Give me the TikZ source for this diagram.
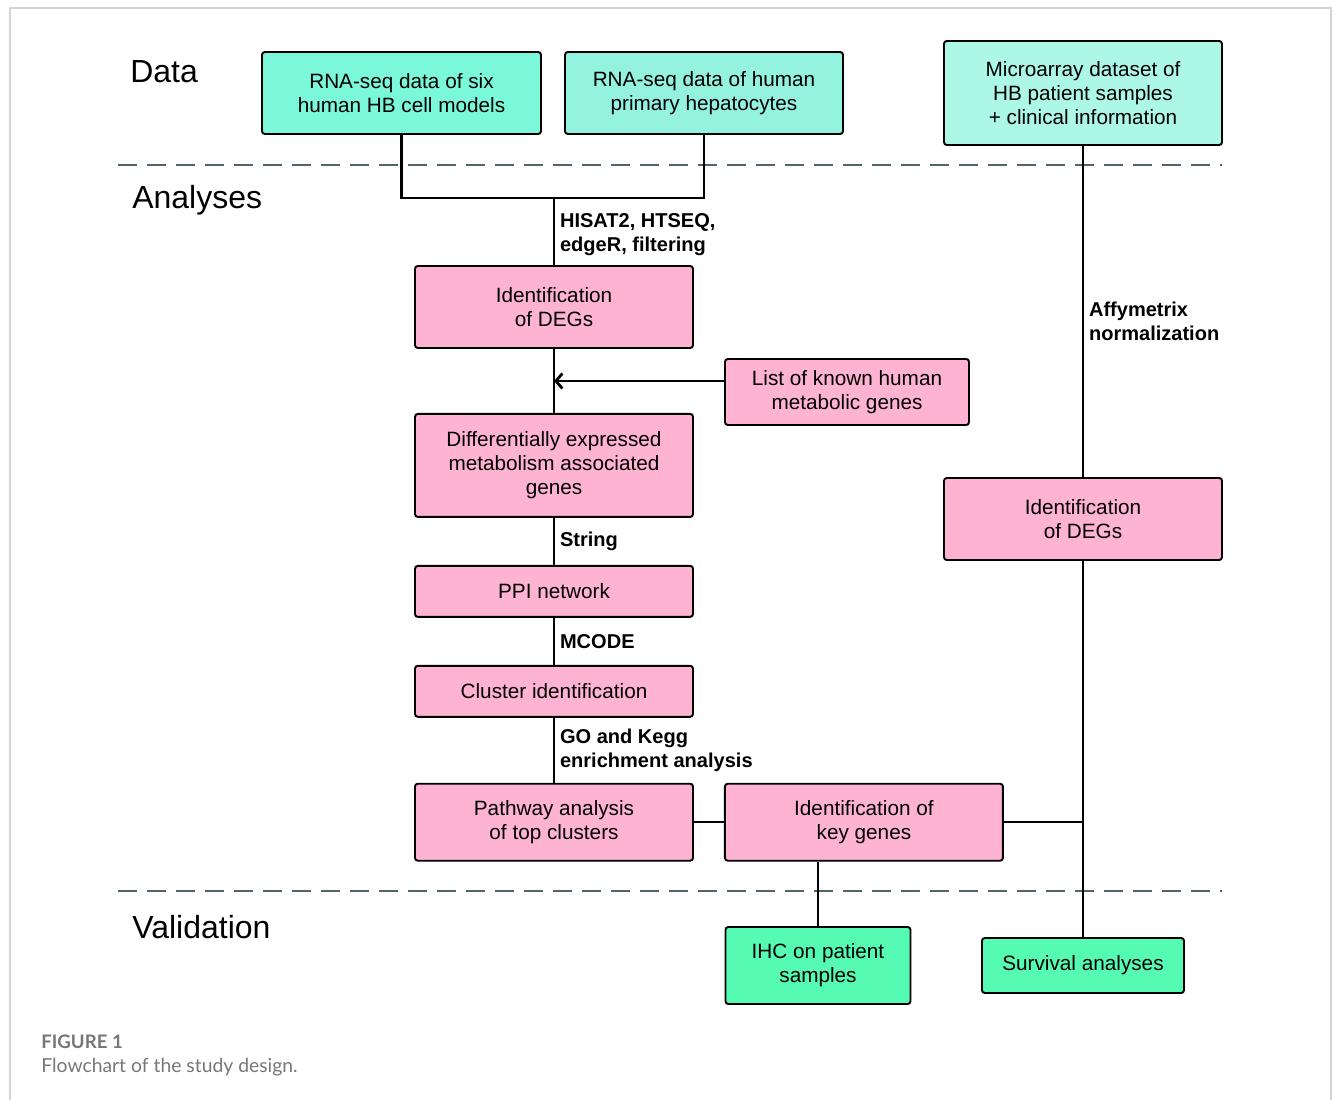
\documentclass[tikz,border=0pt]{standalone}
\usepackage{fontspec}
\setmainfont{Liberation Sans}
\newfontfamily\capfont{Lato}
\usepackage{tikz}
\usetikzlibrary{arrows.meta,positioning,calc}
\definecolor{DataTealA}{HTML}{7BF8D9}
\definecolor{DataTealB}{HTML}{93F3DE}
\definecolor{DataTealC}{HTML}{ACF7E6}
\definecolor{StepPink}{HTML}{FFB3D3}
\definecolor{ValidGreen}{HTML}{55FBB2}
\definecolor{DivGray}{HTML}{50646A}
\definecolor{FrameGray}{HTML}{D4D4D4}
\definecolor{CapGray}{HTML}{777777}
\tikzset{
  BX/.style={rectangle,rounded corners=1.6pt,draw=black,line width=1.1pt,
             inner sep=2pt,text centered,align=center,
             font=\fontsize{11.8}{13.7}\selectfont},
  bA/.style={BX,fill=DataTealA},
  bB/.style={BX,fill=DataTealB},
  bC/.style={BX,fill=DataTealC},
  bP/.style={BX,fill=StepPink},
  bV/.style={BX,fill=ValidGreen},
  ln/.style={line width=1.2pt,black},
  arr/.style={ln,-{Straight Barb[length=0.13cm,width=0.3cm,line width=1.6pt]}},
  lbl/.style={font=\fontsize{11.4}{13.7}\selectfont\bfseries,align=left,
              inner sep=0.1cm,midway,right},
  sec/.style={anchor=west,inner sep=0pt,font=\fontsize{18.2}{22}\selectfont},
  divline/.style={DivGray,line width=1.5pt,dash pattern=on 0.38cm off 0.2cm},
  frm/.style={FrameGray,line width=1pt},
  capt/.style={anchor=west,inner sep=0pt,text=CapGray,
               font=\capfont\fontsize{11}{13}\selectfont}
}
\begin{document}
\begin{tikzpicture}[node distance=1cm and 0.6cm]
  \useasboundingbox (0,0) rectangle (26.66,-22);
  \draw[frm] (0.2,-22) -- (0.2,-0.16) -- (26.62,-0.16) -- (26.62,-22);

  % dividers and section names
  \draw[divline] (2.36,-3.30) -- (24.44,-3.30);
  \draw[divline] (2.36,-17.82) -- (24.44,-17.82);
  \node[sec] (sdata) at (2.6,-1.44) {Data};
  \node[sec] (sana) at (2.64,-4.0) {Analyses};
  \node[sec] (sval) at (2.64,-18.54) {Validation};

  % data
  \node[bA,minimum width=5.58cm,minimum height=1.64cm] (rna1) at (8.03,-1.86) {RNA-seq data of six\\human HB cell models};
  \node[bB,minimum width=5.56cm,minimum height=1.64cm] (rna2) at (14.08,-1.86) {RNA-seq data of human\\primary hepatocytes};
  \node[bC,minimum width=5.56cm,minimum height=2.08cm] (micro) at (21.66,-1.86) {Microarray dataset of\\HB patient samples\\+ clinical information};

  % analyses, left column
  \node[bP,minimum width=5.56cm,minimum height=1.64cm] (deg1) at (11.08,-6.14) {Identification\\of DEGs};
  \node[bP,minimum width=5.56cm,minimum height=2.06cm,below=1.28cm of deg1] (dem) {Differentially expressed\\metabolism associated\\genes};
  \node[bP,minimum width=5.56cm,minimum height=1.02cm,below=0.94cm of dem] (ppi) {PPI network};
  \node[bP,minimum width=5.56cm,minimum height=1.02cm,below=0.94cm of ppi] (clus) {Cluster identification};
  \node[bP,minimum width=5.56cm,minimum height=1.54cm,below=1.30cm of clus] (path) {Pathway analysis\\of top clusters};
  \node[bP,minimum width=5.56cm,minimum height=1.54cm,right=0.6cm of path] (key) {Identification of\\key genes};
  \node[bP,minimum width=4.88cm,minimum height=1.32cm] (list) at (16.94,-7.84) {List of known human\\metabolic genes};
  \node[bP,minimum width=5.56cm,minimum height=1.64cm] (deg2) at (21.66,-10.38) {Identification\\of DEGs};

  % validation
  \node[bV,minimum width=3.7cm,minimum height=1.54cm] (ihc) at (16.36,-19.31) {IHC on patient\\samples};
  \node[bV,minimum width=4.04cm,minimum height=1.1cm] (surv) at (21.66,-19.31) {Survival analyses};

  \coordinate (mrg) at (11.08,-3.96);
  \draw[ln](rna1.south) |- (mrg) -| (rna2.south);
  \draw[ln](mrg) -- node[lbl,pos=0.55]{HISAT2, HTSEQ,\\edgeR, filtering} (deg1.north);
  \draw[ln](deg1.south) -- (dem.north);
  \draw[arr]([yshift=0.22cm]list.west) -- ([yshift=0.22cm]list.west -| deg1.south);
  \draw[ln](dem.south) -- node[lbl]{String} (ppi.north);
  \draw[ln](ppi.south) -- node[lbl]{MCODE} (clus.north);
  \draw[ln](clus.south) -- node[lbl]{GO and Kegg\\enrichment analysis} (path.north);
  \draw[ln](path.east) -- (key.west);
  \draw[ln](micro.south) -- node[lbl,pos=0.53]{Affymetrix\\normalization} (deg2.north);
  \draw[ln](deg2.south) -- (surv.north);
  \draw[ln](key.east) -- (key.east -| deg2.south);
  \draw[ln](key.south -| ihc.north) -- (ihc.north);

  % caption
  \node[capt,font=\capfont\fontsize{10.6}{13}\selectfont\bfseries] (fig) at (0.82,-20.84) {FIGURE 1};
  \node[capt] (cap) at (0.82,-21.34) {Flowchart of the study design.};
\end{tikzpicture}
\end{document}
